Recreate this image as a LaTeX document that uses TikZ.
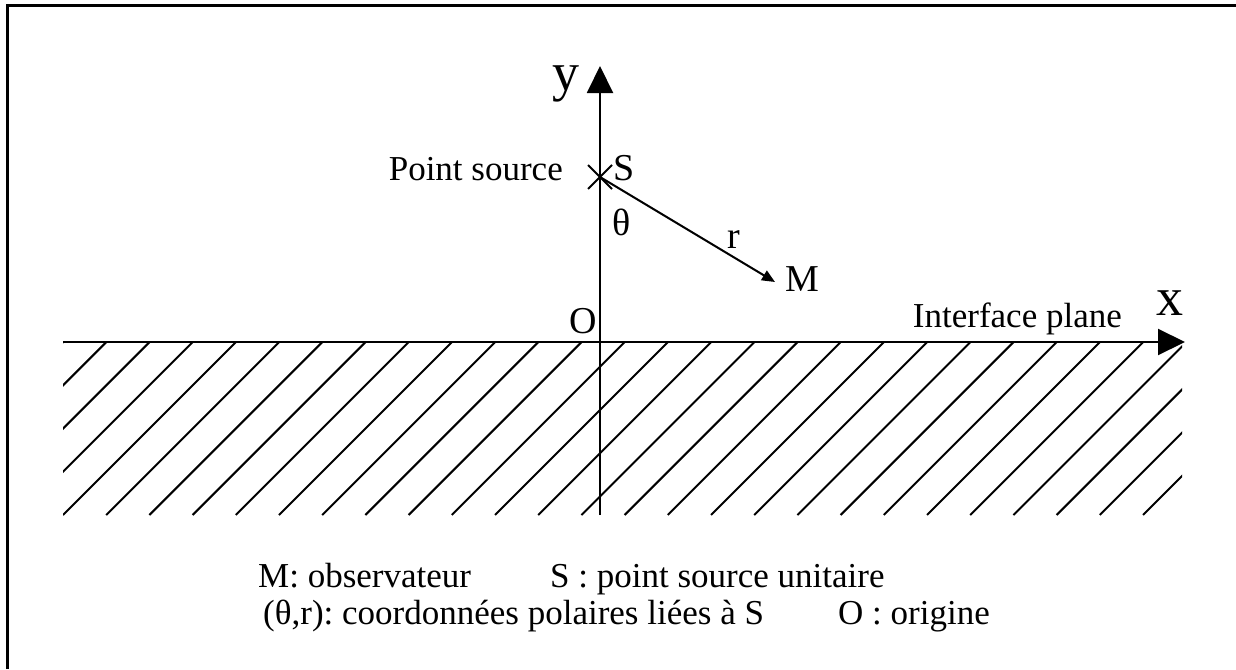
\documentclass[tikz,border=0pt]{standalone}
\usepackage{fontspec}
\setmainfont{Liberation Serif}
\usetikzlibrary{arrows.meta,shapes.misc}

\tikzset{
  axis/.style={line width=2pt, -{Triangle[length=27pt, width=26pt]}},
  hatch/.style={line width=2pt},
  axlbl/.style={font=\fontsize{54}{60}\selectfont, anchor=base},
  ptlbl/.style={font=\fontsize{38}{44}\selectfont, anchor=base},
}

\begin{document}
\frenchspacing
\begin{tikzpicture}[x=1pt, y=-1pt, every node/.style={inner sep=0pt, font=\fontsize{35}{40}\selectfont}]
\useasboundingbox (0,0) rectangle (1236,669);
\draw[line width=3pt] (7,669) -- (7,6) -- (1236,6);

% hatched half-space below the interface
\begin{scope}
  \clip (63,342) rectangle (1182,515);
  \foreach \k in {-4,...,26}
    \draw[hatch] (63+43.2*\k,515) -- ++(173,-173);
\end{scope}

\coordinate (orig) at (600,342);
\coordinate (ybot) at (600,515);
\coordinate (ytip) at (600,66);
\coordinate (xbeg) at (63,342);
\coordinate (xtip) at (1185,342);
\coordinate (obs) at (775,282);
\node[draw, cross out, minimum size=22pt, line width=2pt] (src) at (600,177) {};

\draw[axis] (ybot) -- (ytip);
\draw[axis] (xbeg) -- (xtip);
\draw[line width=2pt, -{Triangle[length=13pt, width=11pt]}] (src.center) -- (obs);

\node[axlbl] (ylbl) at (566,90) {y};
\node[axlbl] (xlbl) at (1170,315) {x};
\node[ptlbl] (slbl) at (624,180) {S};
\node[anchor=base east] (srclbl) at (563,180) {Point source};
\node[ptlbl] (thlbl) at (622,235) {θ};
\node[ptlbl] (rlbl) at (734,248) {r};
\node[ptlbl, anchor=base west] (mlbl) at (785,291) {M};
\node[ptlbl] (olbl) at (583,333) {O};
\node[anchor=base east] (plane) at (1122,327) {Interface plane};

% legend
\node[anchor=base west] (leg1) at (258,587) {M: observateur};
\node[anchor=base west] (leg2) at (550,587) {S : point source unitaire};
\node[anchor=base west] (leg3) at (263,624) {(θ,r): coordonnées polaires liées à S};
\node[anchor=base west] (leg4) at (838,624) {O : origine};
\end{tikzpicture}
\end{document}
